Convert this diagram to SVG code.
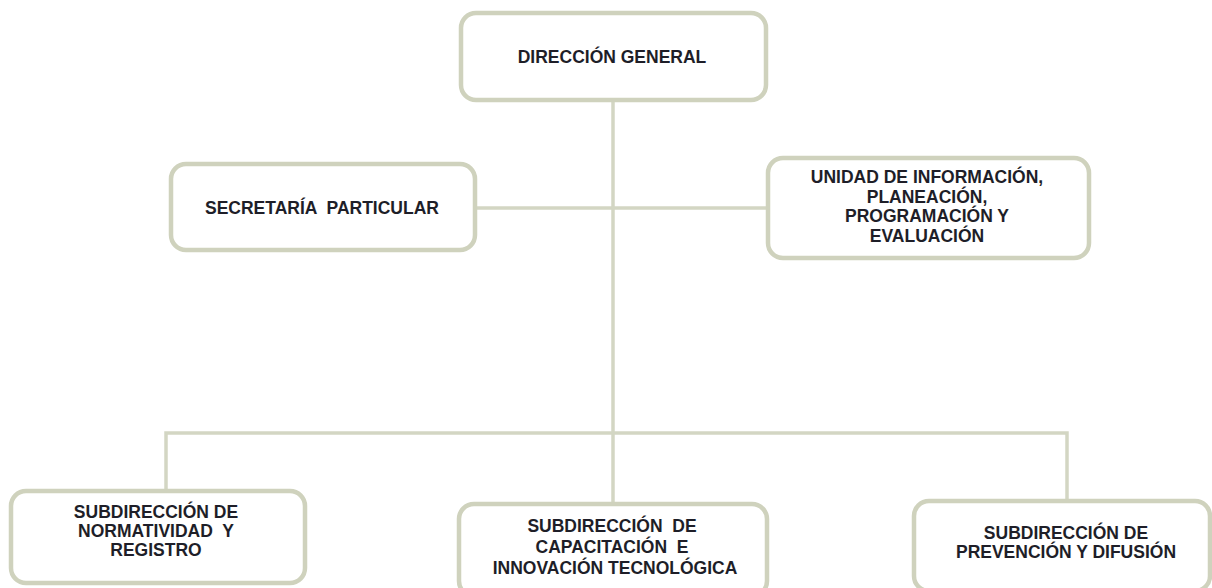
<svg xmlns="http://www.w3.org/2000/svg" width="1212" height="588" viewBox="0 0 1212 588">
<style>
.box{fill:#ffffff;stroke:#cfd2bd;stroke-width:4.5}
.ln{fill:none;stroke:#d3d6c3;stroke-width:3.5}
text{font-family:"Liberation Sans",Arial,sans-serif;font-weight:bold;font-size:17.5px;fill:#1e1e28;text-anchor:middle;white-space:pre}
</style>
<rect width="1212" height="588" fill="#ffffff"/>
<g id="connectors">
<path class="ln" d="M613 100 V503"/>
<path class="ln" d="M475 208 H767"/>
<path class="ln" d="M166 490 V433 H1067 V500"/>
</g>
<g id="n-direccion">
<rect class="box" x="461" y="13" width="305" height="87" rx="15"/>
<text x="612" y="63">DIRECCIÓN GENERAL</text>
</g>
<g id="n-secretaria">
<rect class="box" x="171" y="164" width="304" height="86" rx="15"/>
<text x="322" y="214" xml:space="preserve">SECRETARÍA  PARTICULAR</text>
</g>
<g id="n-unidad">
<rect class="box" x="768" y="158" width="321" height="100" rx="15"/>
<text x="927" y="183">UNIDAD DE INFORMACIÓN,</text>
<text x="927" y="202.5">PLANEACIÓN,</text>
<text x="927" y="222">PROGRAMACIÓN Y</text>
<text x="927" y="241.5">EVALUACIÓN</text>
</g>
<g id="n-normatividad">
<rect class="box" x="11" y="491" width="294" height="92" rx="15"/>
<text x="156" y="518">SUBDIRECCIÓN DE</text>
<text x="156" y="537" xml:space="preserve">NORMATIVIDAD  Y</text>
<text x="156" y="556">REGISTRO</text>
</g>
<g id="n-capacitacion">
<rect class="box" x="459" y="504" width="308" height="92" rx="15"/>
<text x="612" y="532" xml:space="preserve">SUBDIRECCIÓN  DE</text>
<text x="612" y="553" xml:space="preserve">CAPACITACIÓN  E</text>
<text x="615" y="574">INNOVACIÓN TECNOLÓGICA</text>
</g>
<g id="n-prevencion">
<rect class="box" x="914" y="501" width="296" height="90" rx="15"/>
<text x="1066" y="539">SUBDIRECCIÓN DE</text>
<text x="1066" y="558">PREVENCIÓN Y DIFUSIÓN</text>
</g>
</svg>
